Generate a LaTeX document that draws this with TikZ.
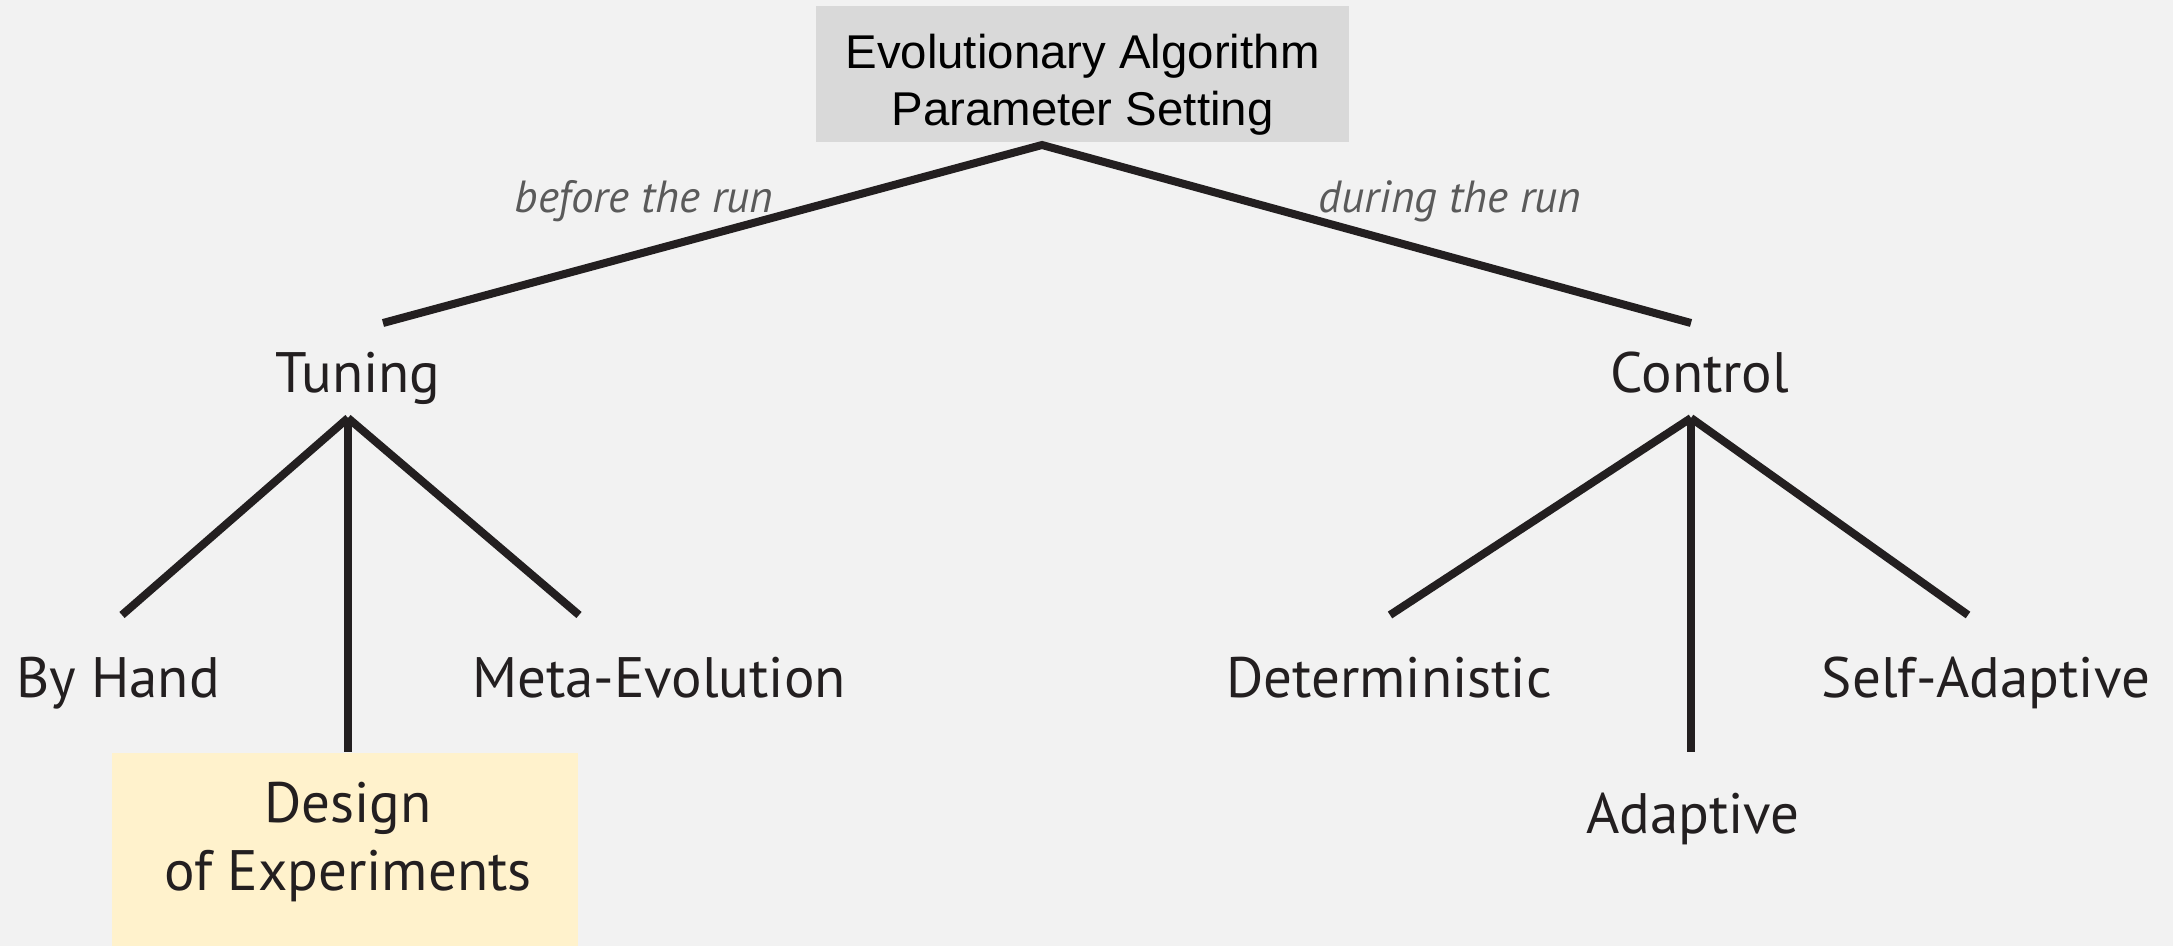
\documentclass[tikz,border=0pt]{standalone}
\usepackage{fontspec}
\setmainfont{Liberation Sans}
\newfontfamily\labelfont{PT Sans}
\definecolor{bgcol}{HTML}{F2F2F2}
\definecolor{rootfill}{HTML}{D9D9D9}
\definecolor{hilite}{HTML}{FFF2CC}
\definecolor{ink}{HTML}{231F20}
\definecolor{edgetext}{HTML}{5A5A5A}
\begin{document}
\begin{tikzpicture}[x=1pt,y=-1pt,
  branch/.style={draw=ink,line width=8pt},
  leaf/.style={text=ink,font=\labelfont\fontsize{57}{68}\selectfont,inner sep=0pt,anchor=base},
  runlabel/.style={text=edgetext,font=\labelfont\itshape\fontsize{45}{50}\selectfont,inner sep=0pt,anchor=base},
  rootbox/.style={text=black,font=\fontsize{47.4}{57}\selectfont,align=center,inner sep=0pt}]
  % canvas
  \fill[bgcol] (0,0) rectangle (2173,946);
  \useasboundingbox (0,0) rectangle (2173,946);

  % root box
  \fill[rootfill] (816,6) rectangle (1349,142);
  \node[rootbox] (root) at (1082.5,85) {Evolutionary Algorithm\\Parameter Setting};

  % first level
  \node[leaf] (tuning) at (358,392) {Tuning};
  \node[leaf] (control) at (1700,392) {Control};

  % junction and end points of the branches
  \coordinate (apex) at (1042,145);
  \coordinate (tuneend) at (383,323);
  \coordinate (ctrlend) at (1691,323);
  \coordinate (tuneroot) at (348,418);
  \coordinate (ctrlroot) at (1691,418);
  \coordinate (handend) at (122,615);
  \coordinate (doeend) at (348,752);
  \coordinate (metaend) at (579,615);
  \coordinate (detend) at (1390,615);
  \coordinate (adaend) at (1691,752);
  \coordinate (selfend) at (1968,615);

  % top split
  \draw[branch] (tuneend) -- (apex) -- (ctrlend);
  \node[runlabel] (before) at (644,212) {before the run};
  \node[runlabel] (during) at (1450,212) {during the run};

  % tuning subtree
  \node[leaf] (hand) at (118,697) {By Hand};
  \node[leaf] (meta) at (659,697) {Meta-Evolution};
  \fill[hilite] (112,753) rectangle (578,946);
  % base of a two-line node sits on its last line
  \node[leaf,align=center] (doe) at (348,890) {Design\\of Experiments};
  \draw[branch] (tuneroot) -- (handend);
  \draw[branch] (tuneroot) -- (doeend);
  \draw[branch] (tuneroot) -- (metaend);

  % control subtree
  \node[leaf] (det) at (1389,697) {Deterministic};
  \node[leaf] (ada) at (1693,833) {Adaptive};
  \node[leaf] (selfa) at (1986,697) {Self-Adaptive};
  \draw[branch] (ctrlroot) -- (detend);
  \draw[branch] (ctrlroot) -- (adaend);
  \draw[branch] (ctrlroot) -- (selfend);
\end{tikzpicture}
\end{document}
